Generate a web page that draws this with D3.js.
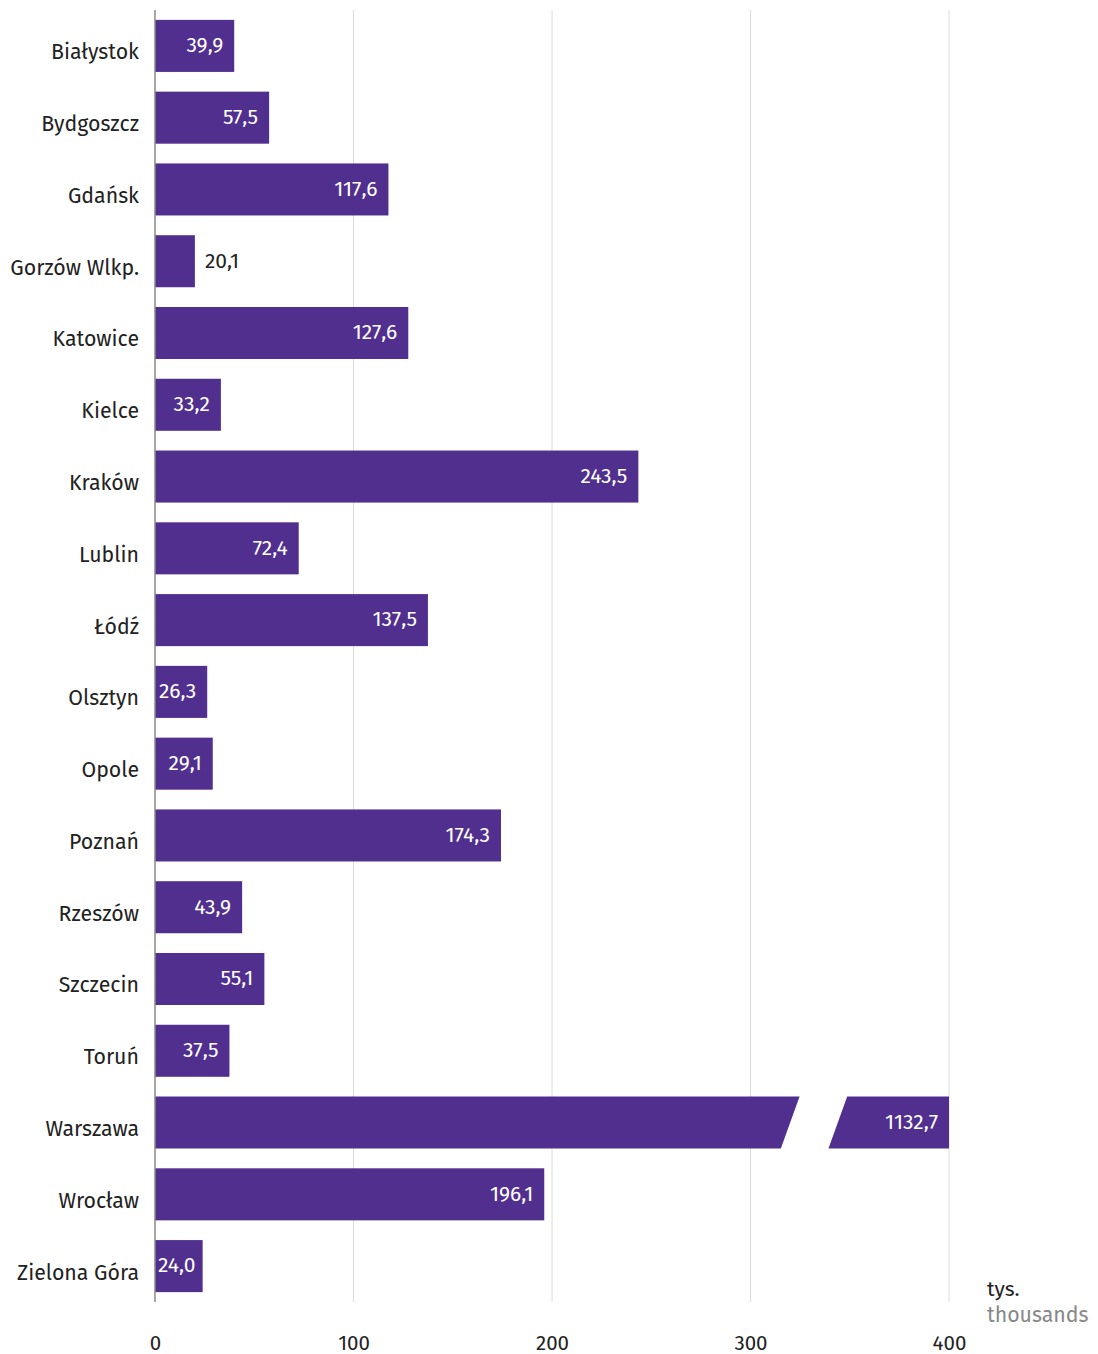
<!DOCTYPE html>
<html>
  <head>
    <meta charset="utf-8" />
    <script src="https://d3js.org/d3.v7.min.js"></script>
    <style>
      body { margin: 0; background: #fff; }
      text { font-family: "Fira Sans", Roboto, "Noto Sans", sans-serif; }
    </style>
  </head>
  <body>
    <svg id="chart" width="1098" height="1354"></svg>

    <script>
      // Dane
      const cities = [
        "Białystok", "Bydgoszcz", "Gdańsk", "Gorzów Wlkp.", "Katowice", "Kielce",
        "Kraków", "Lublin", "Łódź", "Olsztyn", "Opole", "Poznań", "Rzeszów",
        "Szczecin", "Toruń", "Warszawa", "Wrocław", "Zielona Góra"
      ];
      const values = [
        39.9, 57.5, 117.6, 20.1, 127.6, 33.2, 243.5, 72.4, 137.5, 26.3, 29.1,
        174.3, 43.9, 55.1, 37.5, 1132.7, 196.1, 24.0
      ];
      const xTicks = [0, 100, 200, 300, 400];
      const axisMax = 400;
      // przerwa w słupku Warszawy (w jednostkach osi)
      const breakFrom = 320;
      const breakTo = 344;

      const width = 1098;
      const height = 1354;
      const margin = { top: 10, right: 149, bottom: 52, left: 155 };
      const svg = d3.select("#chart");
      const purple = "#512f8f";

      const x = d3.scaleLinear()
        .domain([0, axisMax])
        .range([margin.left, width - margin.right]);

      const y = d3.scaleBand()
        .domain(cities)
        .range([margin.top, height - margin.bottom])
        .paddingInner(0.275)
        .paddingOuter(0.1375);

      const fmt = (v) => d3.format(".1f")(v).replace(".", ",");
      // etykieta poza słupkiem, gdy słupek za krótki
      const outside = (d) => d.value < 22;

      // linie siatki
      svg.append("g")
        .selectAll("line")
        .data(xTicks.filter((t) => t > 0))
        .join("line")
        .attr("x1", (d) => x(d))
        .attr("x2", (d) => x(d))
        .attr("y1", margin.top)
        .attr("y2", height - margin.bottom)
        .attr("stroke", "#dcdcdc")
        .attr("stroke-width", 1);

      // słupki
      const data = cities.map((c, i) => ({ city: c, value: values[i] }));
      const bars = svg.append("g");
      const slant = y.bandwidth() * 0.36;

      data.forEach((d) => {
        const top = y(d.city);
        const bot = top + y.bandwidth();
        if (d.value <= axisMax) {
          bars.append("rect")
            .attr("x", x(0))
            .attr("y", top)
            .attr("width", x(d.value) - x(0))
            .attr("height", y.bandwidth())
            .attr("fill", purple);
        } else {
          // słupek z przerwą
          const b1 = x(breakFrom), b2 = x(breakTo);
          bars.append("path")
            .attr("d", `M${x(0)},${top}L${b1 + slant / 2},${top}L${b1 - slant / 2},${bot}L${x(0)},${bot}Z`)
            .attr("fill", purple);
          bars.append("path")
            .attr("d", `M${b2 + slant / 2},${top}L${x(axisMax)},${top}L${x(axisMax)},${bot}L${b2 - slant / 2},${bot}Z`)
            .attr("fill", purple);
        }
      });

      // etykiety wartości
      svg.append("g")
        .selectAll("text")
        .data(data)
        .join("text")
        .attr("y", (d) => y(d.city) + y.bandwidth() / 2 - 1)
        .attr("dy", "0.35em")
        .attr("text-anchor", (d) => (outside(d) ? "start" : "end"))
        .attr("fill", (d) => (outside(d) ? "#222" : "#fff"))
        .attr("font-size", "21px")
        .text((d) => fmt(d.value))
        .attr("x", function (d) {
          const end = x(Math.min(d.value, axisMax));
          if (outside(d)) return end + 10;
          const w = this.getComputedTextLength();
          return Math.max(end - 11, x(0) + 3 + w);
        });

      // oś Y
      svg.append("line")
        .attr("x1", x(0))
        .attr("x2", x(0))
        .attr("y1", margin.top)
        .attr("y2", height - margin.bottom)
        .attr("stroke", "#888")
        .attr("stroke-width", 1.5);

      svg.append("g")
        .selectAll("text")
        .data(cities)
        .join("text")
        .attr("x", x(0) - 16)
        .attr("y", (d) => y(d) + y.bandwidth() / 2 + 6)
        .attr("dy", "0.35em")
        .attr("text-anchor", "end")
        .attr("fill", "#222")
        .attr("font-size", "21.3px")
        .text((d) => d);

      // oś X
      const xAxis = d3.axisBottom(x).tickValues(xTicks).tickSize(0).tickPadding(0);
      const gx = svg.append("g")
        .attr("transform", `translate(0,${height - 4})`)
        .call(xAxis);
      gx.select(".domain").remove();
      gx.selectAll("text")
        .attr("dy", 0)
        .attr("y", 0)
        .attr("fill", "#222")
        .attr("font-size", "20.5px")
        .style("font-family", "'Fira Sans', Roboto, 'Noto Sans', sans-serif");

      // jednostka
      svg.append("text")
        .attr("x", x(axisMax) + 38)
        .attr("y", height - 58)
        .attr("fill", "#222")
        .attr("font-size", "21px")
        .text("tys.");
      svg.append("text")
        .attr("x", x(axisMax) + 38)
        .attr("y", height - 32)
        .attr("fill", "#888")
        .attr("font-size", "21.3px")
        .text("thousands");
    </script>
  </body>
</html>
